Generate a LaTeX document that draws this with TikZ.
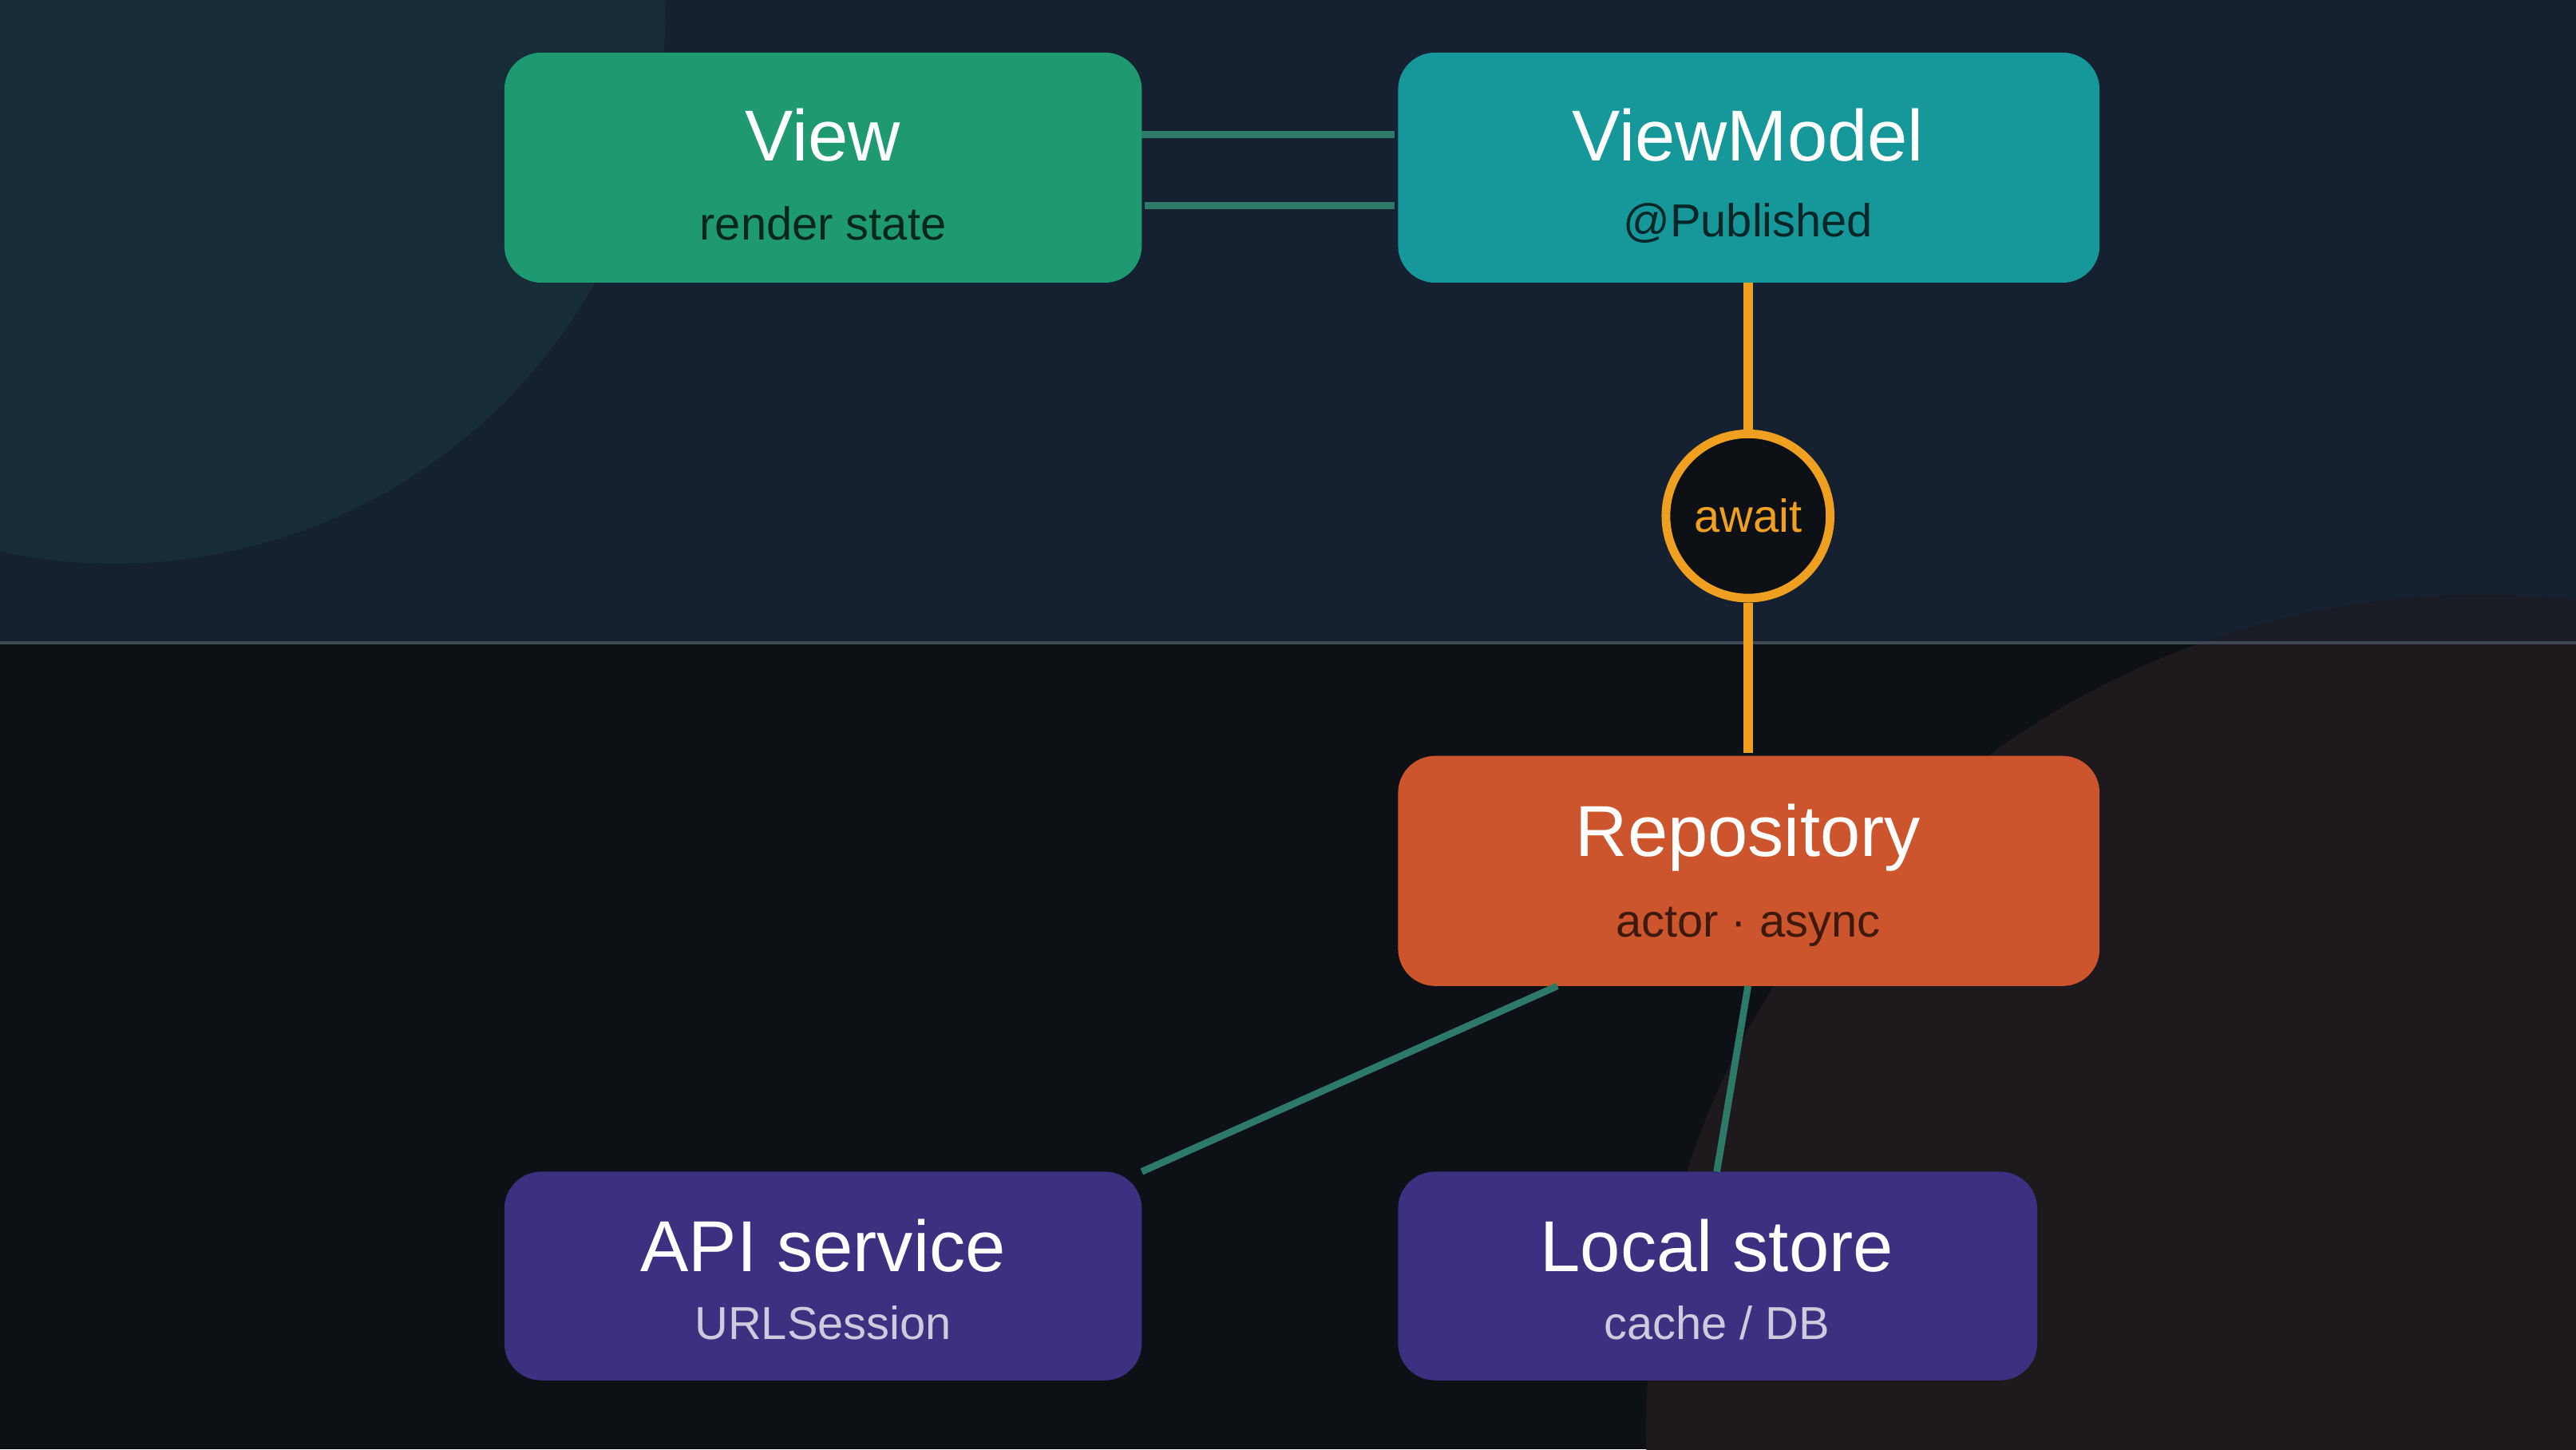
\documentclass[tikz,border=0pt]{standalone}
\usepackage{fontspec}
\setmainfont{Liberation Sans}
\begin{document}
\begin{tikzpicture}[x=0.02cm,y=-0.02cm,
  box/.style={rounded corners=0.45cm,inner sep=0pt,anchor=north west},
  ttl/.style={text=white,font=\fontsize{25}{28}\selectfont},
  sub/.style={font=\fontsize{16}{19}\selectfont},
  link/.style={draw=linkc,line width=2.4pt},
  orange/.style={draw=orc,line width=3.2pt}]
\definecolor{topbg}{HTML}{152030}
\definecolor{botbg}{HTML}{0D1015}
\definecolor{circA}{HTML}{162C36}
\definecolor{circB}{HTML}{1D191D}
\definecolor{viewc}{HTML}{1F9A70}
\definecolor{vmc}{HTML}{16979A}
\definecolor{repc}{HTML}{CC552E}
\definecolor{purc}{HTML}{3B3180}
\definecolor{linkc}{HTML}{2E7A68}
\definecolor{orc}{HTML}{F0A020}
\useasboundingbox (0,0) rectangle (1568,882);
\fill[botbg] (0,0) rectangle (1568,882);
\begin{scope}
\clip (0,391) rectangle (1568,882);
\fill[circB] (1510,870) circle (508);
\end{scope}
\fill[topbg] (0,0) rectangle (1568,391);
\begin{scope}
\clip (0,0) rectangle (1568,391);
\fill[circA] (70,8) circle (335);
\fill[circB!60!topbg] (1510,870) circle (508);
\end{scope}
\draw[color=topbg!80!white!90!topbg,line width=1pt] (0,391) -- (1568,391);
% boxes
\fill[viewc,rounded corners=0.45cm] (307,32) rectangle (695,172);
\node (view) at (501,102) {};
\node[ttl] (viewt) at (501,82) {View};
\node[sub,text=viewc!25!black] (views) at (501,136) {render state};
\fill[vmc,rounded corners=0.45cm] (851,32) rectangle (1278,172);
\node (vm) at (1064,102) {};
\node[ttl] (vmt) at (1064,82) {ViewModel};
\node[sub,text=vmc!25!black] (vms) at (1064,136) {@Published};
\fill[repc,rounded corners=0.45cm] (851,460) rectangle (1278,600);
\node[ttl] (rept) at (1064,510) {Repository};
\node[sub,text=repc!30!black] (reps) at (1064,564) {actor · async};
\fill[purc,rounded corners=0.45cm] (307,713) rectangle (695,840);
\node[ttl] (apit) at (501,758) {API service};
\node[sub,text=purc!25!white] (apis) at (501,805) {URLSession};
\fill[purc,rounded corners=0.45cm] (851,713) rectangle (1240,840);
\node[ttl] (loct) at (1045,758) {Local store};
\node[sub,text=purc!25!white] (locs) at (1045,805) {cache / DB};
% connectors
\coordinate (v1) at (695,82); \coordinate (m1) at (849,82);
\coordinate (v2) at (697,125); \coordinate (m2) at (849,125);
\draw[link] (v1) -- (m1);
\draw[link] (v2) -- (m2);
\coordinate (vmb) at (1064,172); \coordinate (rpt) at (1064,458);
\node[circle,draw=orc,line width=3pt,fill=botbg,minimum size=2.0cm,inner sep=0pt,text=orc,font=\fontsize{16}{19}\selectfont] (aw) at (1064,314) {await};
\draw[orange] (vmb) -- (aw.north);
\draw[orange] (aw.south) -- (rpt);
\coordinate (r1) at (948,600); \coordinate (a1) at (695,713);
\coordinate (r2) at (1064,600); \coordinate (l1) at (1045,713);
\draw[link] (r1) -- (a1);
\draw[link] (r2) -- (l1);
\end{tikzpicture}
\end{document}
